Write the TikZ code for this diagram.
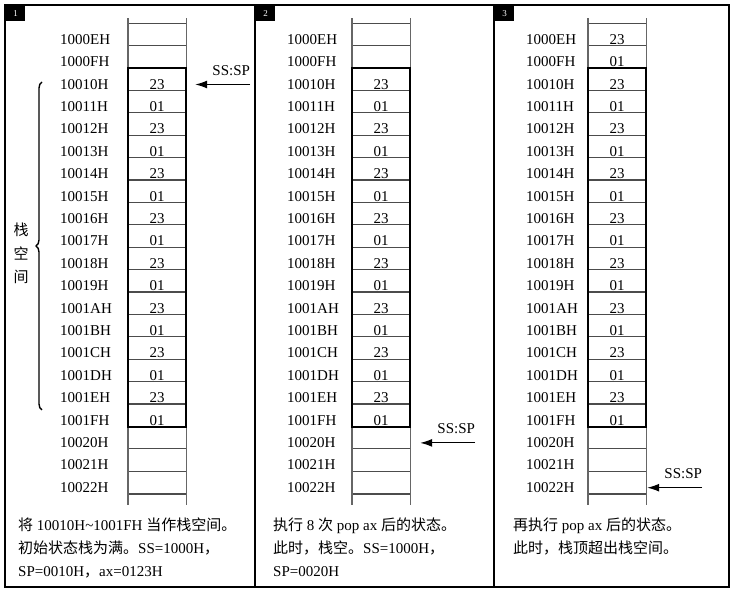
\documentclass[tikz,border=0pt]{standalone}
\usepackage{fontspec}
\setmainfont{Liberation Serif}
\newfontfamily\cjk{Noto Sans CJK SC}
\usetikzlibrary{arrows.meta,decorations.pathreplacing}
\newcommand{\zh}[1]{{\cjk #1}}
\newcommand{\memfont}{\fontsize{15}{23}\selectfont}
\tikzset{
  cellbox/.style={minimum width=58pt, minimum height=22.4pt, inner sep=0pt},
  memrung/.style={draw=black!70, line width=1.2pt},
  memrail/.style={draw=black!60, line width=1.4pt},
  stackbox/.style={draw, line width=1.8pt},
  addrlabel/.style={anchor=base west, inner sep=0pt, font=\memfont},
  cellval/.style={anchor=base, inner sep=0pt, font=\memfont},
  badge/.style={fill=black, text=white, anchor=north west, minimum width=19pt,
    minimum height=15pt, inner sep=0pt, font=\small},
  ptrarrow/.style={-{Latex[length=12pt,width=8pt]}, line width=1.2pt},
  ptrlabel/.style={anchor=base east, inner sep=0pt, font=\memfont},
  notetext/.style={anchor=north west, align=left, inner sep=0pt, font=\memfont},
}

\begin{document}
\begin{tikzpicture}[x=1pt, y=-1pt]
  \useasboundingbox (0,0) rectangle (732,593);
  % 外框与分隔线
  \draw[line width=1.8pt] (5,5) rectangle (729,587);
  \draw[line width=1.8pt] (255,5) -- (255,587);
  \draw[line width=1.8pt] (494,5) -- (494,587);
  % 三个状态：编号/地址列/内存列/首个数据行/SS:SP 所在行/箭头间隙/编号位置
  \foreach \p/\ax/\cx/\first/\sprow/\gap/\bx in
      {1/60/128/2/2/9/6, 2/287/352/2/18/10/256, 3/526/588/0/20/1/495}{
    \node[badge] (b\p) at (\bx,6) {\p};
    \foreach \addr [count=\i from 0] in {1000EH,1000FH,10010H,10011H,10012H,10013H,
        10014H,10015H,10016H,10017H,10018H,10019H,1001AH,1001BH,1001CH,1001DH,
        1001EH,1001FH,10020H,10021H,10022H}{
      \node[cellbox] (m\p-\i) at (\cx+29, 34.7+22.4*\i) {};
      \draw[memrung] (m\p-\i.north west) -- (m\p-\i.north east);
      \node[addrlabel] (a\p-\i) at (\ax, 44.4+22.4*\i) {\addr};
      \pgfmathtruncatemacro\odd{mod(\i,2)}
      \ifnum\i<\first\else\ifnum\i<18
        \node[cellval] (v\p-\i) at (\cx+29, 44.4+22.4*\i) {\ifnum\odd=1 01\else 23\fi};
      \fi\fi
    }
    \draw[memrung] (m\p-20.south west) -- (m\p-20.south east);
    \draw[memrail] ([yshift=5pt]m\p-0.north west) -- ([yshift=-11pt]m\p-20.south west);
    \draw[memrail] ([yshift=5pt]m\p-0.north east) -- ([yshift=-11pt]m\p-20.south east);
    \draw[stackbox] (m\p-2.north west) rectangle (m\p-17.south east);
    % SS:SP 指针
    \coordinate (spt\p) at ([xshift={(\gap+55)*1pt}, yshift=-5pt]m\p-\sprow.east);
    \node[ptrlabel] (ss\p) at ([yshift=9pt]spt\p) {SS:SP};
    \draw[ptrarrow] (spt\p) -- ([xshift={\gap*1pt}, yshift=-5pt]m\p-\sprow.east);
  }
  % 栈空间
  \coordinate (brtop) at (42,82);
  \coordinate (brbot) at (42,410);
  \draw[decorate, decoration={brace, amplitude=6pt}, line width=1.4pt] (brbot) -- (brtop);
  \foreach \ch [count=\k from 0] in {栈,空,间}
    \node[font=\memfont\cjk, inner sep=0pt] (zh\k) at (21, 230+23.5*\k) {\ch};
  % 说明文字
  \node[notetext] (n1) at (18,518) {\zh{将} 10010H\textasciitilde 1001FH \zh{当作栈空间。}\\
    \zh{初始状态栈为满。}SS=1000H\zh{，}\\SP=0010H\zh{，}ax=0123H};
  \node[notetext] (n2) at (273,518) {\zh{执行} 8 \zh{次} pop ax \zh{后的状态。}\\
    \zh{此时，栈空。}SS=1000H\zh{，}\\SP=0020H};
  \node[notetext] (n3) at (513,518) {\zh{再执行} pop ax \zh{后的状态。}\\
    \zh{此时，栈顶超出栈空间。}};
\end{tikzpicture}
\end{document}
